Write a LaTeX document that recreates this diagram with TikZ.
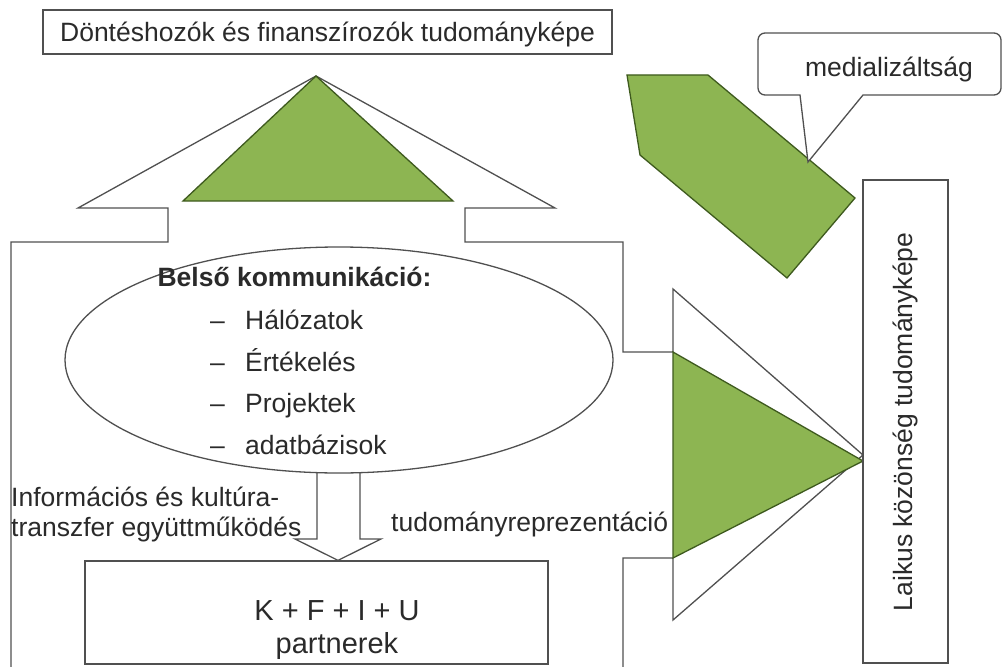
\documentclass[tikz,border=0pt]{standalone}
\usepackage{fontspec}
\setmainfont{Liberation Sans}
\usetikzlibrary{shapes.geometric}
\definecolor{lineg}{HTML}{505050}
\definecolor{leaf}{HTML}{8DB552}
\definecolor{leafd}{HTML}{3E5A1E}
\definecolor{txtc}{HTML}{2A2A2A}
\begin{document}
\begin{tikzpicture}[x=1pt,y=-1pt,
  outline/.style={draw=lineg, line width=1.3pt, line join=miter},
  leafshape/.style={draw=leafd, fill=leaf, line width=1.3pt, line join=miter},
  boxed/.style={draw=lineg, line width=1.3pt, fill=white, inner sep=0pt},
  txt/.style={font=\fontsize{26.5}{30}\selectfont, text=txtc, inner sep=0pt},
  bigtxt/.style={font=\fontsize{29}{33}\selectfont, text=txtc, inner sep=0pt}]
\useasboundingbox (0,0) rectangle (1003,666);
\clip (0,0) rectangle (1003,666);
\fill[white] (0,0) rectangle (1003,666);
% big frame with up and right arrows
\draw[outline, fill=white] (11,690) -- (11,242) -- (168,242) -- (168,208) -- (78,208) -- (316,76)
  -- (555,208) -- (465,208) -- (465,242) -- (623,242) -- (623,352) -- (673,352) -- (673,289)
  -- (863,455) -- (673,620) -- (673,558) -- (623,558) -- (623,690);
% green shapes
\draw[leafshape] (183,201) -- (316,76) -- (453,201) -- cycle;
\draw[leafshape] (673,352) -- (863,461) -- (673,558) -- cycle;
\draw[leafshape] (627,75) -- (708,75) -- (855,198) -- (787,278) -- (640,155) -- cycle;
% top box
\node[boxed, minimum width=569pt, minimum height=44pt] (dec) at (327.5,32) {};
\node[txt, anchor=base] (dect) at (327.5,41.5) {Döntéshozók és finanszírozók tudományképe};
% callout
\coordinate (ctip) at (808,162);
\draw[outline, fill=white] (800,95) [rounded corners=7pt] -- (758,95) -- (758,33) -- (1001,33) -- (1001,95) [sharp corners] -- (863,95) -- (ctip) -- cycle;
\node[txt, anchor=base] (med) at (889,76.5) {medializáltság};
% lay public box
\node[boxed, minimum width=85pt, minimum height=483pt] (lay) at (905.5,421.5) {};
\node[txt, rotate=90] (layt) at (905,422) {Laikus közönség tudományképe};
% ellipse
\node[ellipse, draw=lineg, line width=1.3pt, fill=white, minimum width=548pt, minimum height=226pt, inner sep=0pt] (ell) at (339,360) {};
\node[txt, font=\fontsize{26.5}{30}\selectfont\bfseries, anchor=base] (bk) at (294.5,286.5) {Belső kommunikáció:};
\node[txt, anchor=base west] (i1) at (210,329.5) {\makebox[35pt][l]{–}Hálózatok};
\node[txt, anchor=base west] (i2) at (210,371.5) {\makebox[35pt][l]{–}Értékelés};
\node[txt, anchor=base west] (i3) at (210,412.5) {\makebox[35pt][l]{–}Projektek};
\node[txt, anchor=base west] (i4) at (210,454.5) {\makebox[35pt][l]{–}adatbázisok};
% partners box
\node[boxed, minimum width=463pt, minimum height=103pt] (kf) at (316.5,612.5) {};
\node[bigtxt, anchor=base] (kft) at (337,620) {K + F + I + U};
\node[bigtxt, anchor=base] (kfp) at (337,653) {partnerek};
% down arrow from ellipse to partners
\draw[outline] (ell.south -| 317,0) ++(0,-0.5) -- (317,539) -- (295,539) -- (kf.north -| 338,0) -- (381,539) -- (360,539) -- (360,472.5);
% labels
\node[txt, anchor=base west] (l1) at (11,506.5) {Információs és kultúra-};
\node[txt, anchor=base west] (l2) at (11,536.5) {transzfer együttműködés};
\node[txt, anchor=base west] (l3) at (391,531.5) {tudományreprezentáció};
\end{tikzpicture}
\end{document}
